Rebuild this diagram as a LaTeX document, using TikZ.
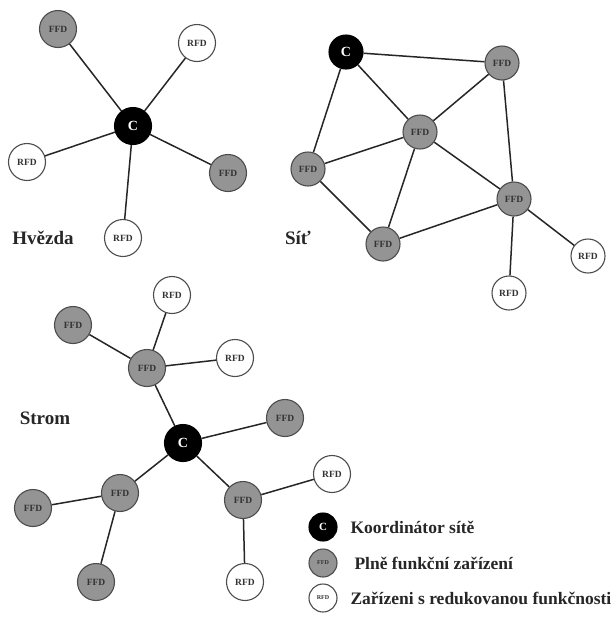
\documentclass[tikz,border=0pt]{standalone}
\usepackage{fontspec}
\setmainfont{Liberation Serif}
\begin{document}
\begin{tikzpicture}[x=1pt,y=-1pt,
  edge/.style={draw=black!85, line width=1.5pt},
  nd/.style={circle, inner sep=0pt, minimum size=37pt, line width=1.1pt, font=\bfseries\fontsize{9.5}{9.5}\selectfont},
  co/.style={nd, fill=black, draw=black, text=white, font=\bfseries\fontsize{14}{14}\selectfont},
  ffd/.style={nd, fill=black!42, draw=black!70, text=black!80},
  rfd/.style={nd, fill=white, draw=black!70, text=black!80},
  small/.style={minimum size=34pt},
  legc/.style={minimum size=28pt, font=\bfseries\fontsize{6}{6}\selectfont},
  title/.style={font=\bfseries\fontsize{19}{19}\selectfont, text=black!85},
  leg/.style={font=\bfseries\fontsize{17.5}{17.5}\selectfont, anchor=west, text=black!85}
]
\useasboundingbox (0,0) rectangle (613,619);
% ---- Star ----
\node[co]  (s0) at (133,126) {C};
\node[ffd] (s1) at (58,29) {FFD};
\node[rfd] (s2) at (197,43) {RFD};
\node[rfd] (s3) at (27,162) {RFD};
\node[ffd] (s4) at (228,173) {FFD};
\node[rfd] (s5) at (123,238) {RFD};
\foreach \n in {s1,s2,s3,s4,s5} \draw[edge] (s0) -- (\n);
\node[title] (hv) at (43,238) {Hvězda};
% ---- Mesh ----
\node[co,small]  (m0) at (346,52) {C};
\node[ffd,small] (m1) at (502,63) {FFD};
\node[ffd,small] (m2) at (420,132) {FFD};
\node[ffd,small] (m3) at (308,169) {FFD};
\node[ffd,small] (m4) at (514,199) {FFD};
\node[ffd,small] (m5) at (383,244) {FFD};
\node[rfd,small] (m6) at (588,256) {RFD};
\node[rfd,small] (m7) at (509,293) {RFD};
\draw[edge] (m0) -- (m1);
\draw[edge] (m0) -- (m2);
\draw[edge] (m0) -- (m3);
\draw[edge] (m1) -- (m2);
\draw[edge] (m1) -- (m4);
\draw[edge] (m2) -- (m3);
\draw[edge] (m2) -- (m5);
\draw[edge] (m2) -- (m4);
\draw[edge] (m3) -- (m5);
\draw[edge] (m5) -- (m4);
\draw[edge] (m4) -- (m6);
\draw[edge] (m4) -- (m7);
\node[title] (si) at (298,238) {Síť};
% ---- Tree ----
\node[co]  (t0) at (183,443) {C};
\node[ffd] (t1) at (147,368) {FFD};
\node[rfd] (t2) at (172,295) {RFD};
\node[ffd] (t3) at (73,325) {FFD};
\node[rfd] (t4) at (235,358) {RFD};
\node[ffd] (t5) at (285,418) {FFD};
\node[ffd] (t6) at (243,500) {FFD};
\node[rfd] (t7) at (332,474) {RFD};
\node[rfd] (t8) at (245,582) {RFD};
\node[ffd] (t9) at (120,493) {FFD};
\node[ffd] (t10) at (33,508) {FFD};
\node[ffd] (t11) at (96,582) {FFD};
\draw[edge] (t0) -- (t1);
\draw[edge] (t1) -- (t2);
\draw[edge] (t1) -- (t3);
\draw[edge] (t1) -- (t4);
\draw[edge] (t0) -- (t5);
\draw[edge] (t0) -- (t6);
\draw[edge] (t6) -- (t7);
\draw[edge] (t6) -- (t8);
\draw[edge] (t0) -- (t9);
\draw[edge] (t9) -- (t10);
\draw[edge] (t9) -- (t11);
\node[title] (st) at (45,418) {Strom};
% ---- Legend ----
\node[co,legc,font=\bfseries\fontsize{11}{11}\selectfont] (l1) at (323,527) {C};
\node[ffd,legc] (l2) at (323,563) {FFD};
\node[rfd,legc] (l3) at (323,598) {RFD};
\node[leg] (lt1) at (347,527) {Koordinátor sítě};
\node[leg] (lt2) at (351,563) {Plně funkční zařízení};
\node[leg] (lt3) at (347,598) {Zařízeni s redukovanou funkčnosti};
\end{tikzpicture}
\end{document}
